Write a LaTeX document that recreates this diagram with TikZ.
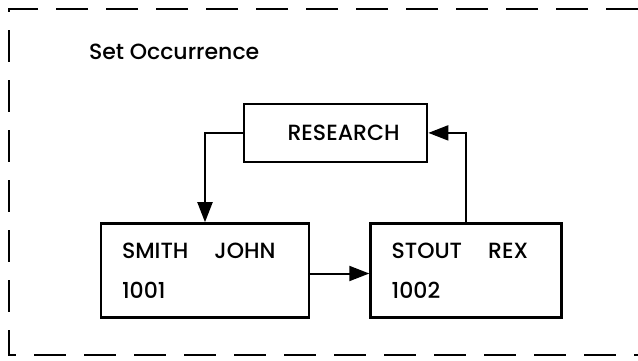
\documentclass[tikz,border=0pt]{standalone}
\usepackage{fontspec}
\setmainfont{Poppins Medium}
\usetikzlibrary{calc, positioning, arrows.meta}

\begin{document}
\begin{tikzpicture}[x=1pt, y=1pt,
  every node/.style = {font=\fontsize{11}{13}\selectfont},
  record/.style = {draw, line width=1.3pt, align=left, inner xsep=10.5pt,
    text width=#1, minimum height=47pt},
  owner/.style = {draw, line width=1.3pt, minimum width=91.5pt, minimum height=29pt},
  link/.style = {line width=1pt, -{Triangle[length=10pt, width=7.5pt]}},
  frame/.style = {line width=0.9pt, dash pattern=on 16pt off 9pt}]
\useasboundingbox (0,0) rectangle (319,180);
% dashed set frame, open to the right
\coordinate (ne) at (319,175.5);
\coordinate (nw) at (4.5,175.5);
\coordinate (sw) at (4.5,2.5);
\coordinate (se) at (319,2.5);
\draw[frame] (ne) -- (nw) -- (sw) -- (se);

\node[anchor=base west] (title) at (41,150.5) {Set Occurrence};

% member records
\node[record=83pt] (smith) at (102.5,44.75) {SMITH\hspace{13pt}JOHN\\[7pt]1001};
\node[record=74.5pt] (stout) [right = 29.5pt of smith] {STOUT\hspace{13pt}REX\\[7pt]1002};

% owner record
\coordinate (mid) at ($(smith.north)!0.5!(stout.north)$);
\node[owner] (research) [above = 29.5pt of mid] {\hspace{8pt}RESEARCH};

\draw[link] (research.west) -| (smith.north);
\draw[link] ([yshift=-1.5pt]smith.east) -- ([yshift=-1.5pt]stout.west);
\draw[link] (stout.north) |- (research.east);
\end{tikzpicture}
\end{document}
